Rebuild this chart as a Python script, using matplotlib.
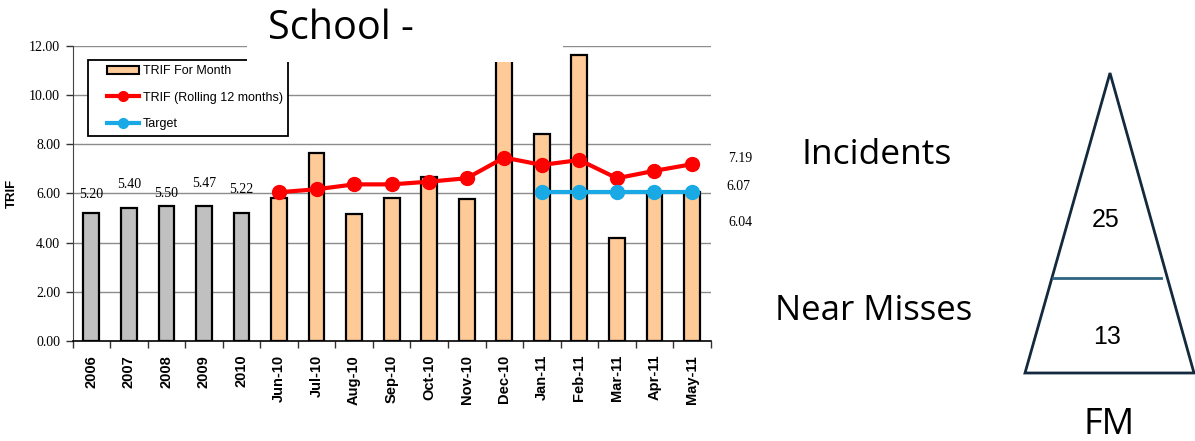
import matplotlib.pyplot as plt
import numpy as np
from matplotlib.patches import Rectangle, Polygon
from matplotlib.lines import Line2D
from matplotlib.legend_handler import HandlerLine2D, HandlerPatch

categories = ["2006", "2007", "2008", "2009", "2010",
              "Jun-10", "Jul-10", "Aug-10", "Sep-10", "Oct-10", "Nov-10",
              "Dec-10", "Jan-11", "Feb-11", "Mar-11", "Apr-11", "May-11"]
trif_values = [5.20, 5.40, 5.50, 5.47, 5.22,
               5.80, 7.66, 5.15, 5.80, 6.68, 5.76,
               11.9, 8.42, 11.63, 4.18, 6.01, 6.04]
rolling_labels = ["Jun-10", "Jul-10", "Aug-10", "Sep-10", "Oct-10", "Nov-10",
                  "Dec-10", "Jan-11", "Feb-11", "Mar-11", "Apr-11", "May-11"]
rolling_values = [6.05, 6.17, 6.37, 6.37, 6.48, 6.62,
                  7.46, 7.16, 7.36, 6.62, 6.92, 7.19]
target_labels = ["Jan-11", "Feb-11", "Mar-11", "Apr-11", "May-11"]
target_values = [6.07, 6.07, 6.07, 6.07, 6.07]
n_years = 5  # first five bars are yearly totals
incidents = 25
near_misses = 13

GREY = "#c0c0c0"
PEACH = "#fdca98"
RED = "#ff0000"
CYAN = "#19a9e4"
SERIF = ["Liberation Serif", "DejaVu Serif"]
SANS = ["Liberation Sans", "DejaVu Sans"]
BIG = ["Open Sans", "DejaVu Sans"]
LEG_SHIFT = 1.07  # empty space left of legend handles, in font sizes


class ShiftedLine(HandlerLine2D):
    def create_artists(self, legend, orig_handle, xdescent, ydescent,
                       width, height, fontsize, trans):
        s = LEG_SHIFT * fontsize
        return super().create_artists(legend, orig_handle, xdescent - s, ydescent,
                                      width - s, height, fontsize, trans)


class ShiftedPatch(HandlerPatch):
    def create_artists(self, legend, orig_handle, xdescent, ydescent,
                       width, height, fontsize, trans):
        s = LEG_SHIFT * fontsize
        return super().create_artists(legend, orig_handle, xdescent - s, ydescent,
                                      width - s, height, fontsize, trans)


fig = plt.figure(figsize=(11.95, 4.41), dpi=100)
ax = fig.add_axes([0.0607, 0.2268, 0.5341, 0.669])

x = np.arange(len(categories))
colors = [GREY] * n_years + [PEACH] * (len(categories) - n_years)
ax.bar(x, trif_values, width=0.42, color=colors, edgecolor="black",
       linewidth=1.6, zorder=2)

xr = [categories.index(c) for c in rolling_labels]
xt = [categories.index(c) for c in target_labels]
ax.plot(xr, rolling_values, color=RED, lw=3, marker="o", ms=10, zorder=3)
ax.plot(xt, target_values, color=CYAN, lw=3, marker="o", ms=10, zorder=3)

# value labels above the yearly bars
label_offsets = [0.74, 0.95, 0.48, 0.92, 0.95]
for i in range(n_years):
    ax.text(x[i], trif_values[i] + label_offsets[i], f"{trif_values[i]:.2f}",
            ha="center", va="center", fontsize=10, family=SERIF)

ax.set_xlim(-0.5, len(categories) - 0.5)
ax.set_ylim(0, 12)
yt = np.arange(0, 12.1, 2)
ax.set_yticks(yt)
ax.set_yticklabels([f"{v:.2f}" for v in yt], fontsize=10, family=SERIF)
for v in yt[1:]:
    ax.axhline(v, color="#8c8c8c", lw=1, zorder=1)

ax.set_xticks(x)
ax.set_xticklabels(categories, rotation=90, fontsize=10.5, fontweight="bold",
                   family=SANS)
ax.tick_params(axis="x", which="major", length=0, pad=10)
ax.set_xticks(np.arange(-0.5, len(categories), 1), minor=True)
ax.tick_params(axis="x", which="minor", length=5, width=1, color="#333333")
ax.tick_params(axis="y", length=5, width=1, color="#333333", pad=4)

for s in ["top", "right"]:
    ax.spines[s].set_visible(False)
ax.spines["left"].set_color("#444444")
ax.spines["bottom"].set_color("black")
ax.spines["bottom"].set_linewidth(1.2)

ax.set_ylabel("TRIF", fontsize=9.5, fontweight="bold", family=SANS)
ax.yaxis.set_label_coords(-0.085, 0.5)

patch_h = Rectangle((0, 0), 1, 1, facecolor=PEACH, edgecolor="black", lw=1.5)
red_h = Line2D([], [], color=RED, lw=3, marker="o", ms=7)
cyan_h = Line2D([], [], color=CYAN, lw=3, marker="o", ms=7)
leg = ax.legend([patch_h, red_h, cyan_h],
                ["TRIF For Month", "TRIF (Rolling 12 months)", "Target"],
                handler_map={Rectangle: ShiftedPatch(), Line2D: ShiftedLine()},
                loc="upper left", bbox_to_anchor=(0.024, 0.953), borderaxespad=0,
                fancybox=False, framealpha=1, edgecolor="black",
                prop={"family": SANS, "size": 9},
                handlelength=2.56 + LEG_SHIFT, handletextpad=0.32,
                labelspacing=1.15, borderpad=0.45)
leg.get_frame().set_linewidth(1.3)

# latest values at the right of the chart
fig.text(740 / 1195, 1 - 158 / 441, f"{rolling_values[-1]:.2f}", fontsize=10,
         family=SERIF, ha="center", va="center")
fig.text(738 / 1195, 1 - 187 / 441, f"{target_values[-1]:.2f}", fontsize=10,
         family=SERIF, ha="center", va="center")
fig.text(740 / 1195, 1 - 222 / 441, f"{trif_values[-1]:.2f}", fontsize=10,
         family=SERIF, ha="center", va="center")

# title on a white box covering the top of the chart
fig.add_artist(Rectangle((247 / 1195, 1 - 62 / 441), (563 - 247) / 1195, 62 / 441,
                         transform=fig.transFigure, facecolor="white",
                         edgecolor="none", zorder=5))
fig.text(341 / 1195, 1 - 29 / 441, "School -", fontsize=28.5, family=BIG,
         ha="center", va="center", zorder=6)

# pyramid
tri = Polygon([(1110 / 1195, 1 - 73 / 441), (1025 / 1195, 1 - 373 / 441),
               (1194 / 1195, 1 - 373 / 441)], closed=True, fill=False,
              edgecolor="#13293d", lw=2, transform=fig.transFigure)
fig.add_artist(tri)
fig.add_artist(Line2D([1053 / 1195, 1161 / 1195], [1 - 278 / 441, 1 - 278 / 441],
                      color="#2f6482", lw=2, transform=fig.transFigure))
fig.text(1106 / 1195, 1 - 220 / 441, str(incidents), fontsize=18,
         family=SANS, ha="center", va="center")
fig.text(1107 / 1195, 1 - 337 / 441, str(near_misses), fontsize=18,
         family=SANS, ha="center", va="center")
fig.text(877 / 1195, 1 - 155 / 441, "Incidents", fontsize=25.5, family=BIG,
         ha="center", va="center")
fig.text(874 / 1195, 1 - 311 / 441, "Near Misses", fontsize=25, family=BIG,
         ha="center", va="center")
fig.text(1109 / 1195, 1 - 425 / 441, "FM", fontsize=26, family=BIG,
         ha="center", va="center")

fig.savefig("out.png", dpi=100)
